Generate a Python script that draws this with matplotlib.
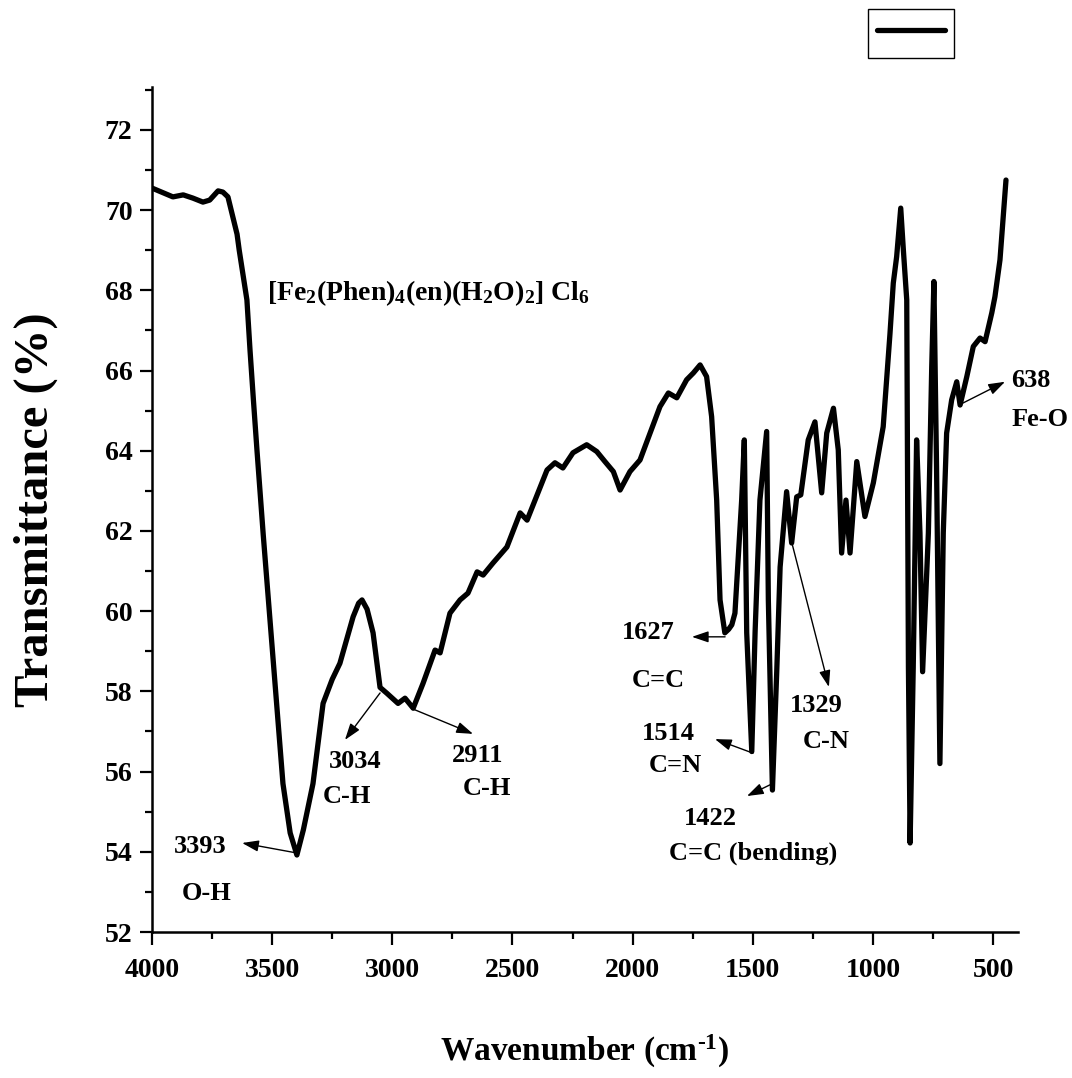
import matplotlib
matplotlib.use("Agg")
import matplotlib.pyplot as plt
from matplotlib.ticker import MultipleLocator

plt.rcParams['font.family'] = 'Liberation Serif'
plt.rcParams['font.weight'] = 'bold'
plt.rcParams['mathtext.fontset'] = 'custom'
plt.rcParams['mathtext.rm'] = 'Liberation Serif:bold'
plt.rcParams['mathtext.bf'] = 'Liberation Serif:bold'
plt.rcParams['mathtext.it'] = 'Liberation Serif:bold'

# FTIR spectrum (wavenumber in cm-1, transmittance in %)
wavenumber = [4000, 3960, 3913, 3870, 3830, 3788, 3760, 3725, 3705, 3684,
              3646, 3637, 3605, 3592, 3578, 3563, 3537, 3455, 3425, 3397,
              3370, 3330, 3288, 3250, 3218, 3163, 3140, 3126, 3105, 3080,
              3051, 3022, 2976, 2947, 2913, 2872, 2822, 2801, 2760, 2718,
              2685, 2647, 2622, 2581, 2523, 2468, 2439, 2356, 2323, 2290,
              2248, 2191, 2149, 2115, 2080, 2052, 2011, 1969, 1927, 1886,
              1851, 1816, 1775, 1747, 1719, 1692, 1671, 1650, 1636, 1616,
              1600, 1587, 1574, 1546, 1535, 1525, 1504, 1490, 1470, 1442,
              1435, 1418, 1400, 1386, 1359, 1338, 1317, 1300, 1269, 1241,
              1213, 1192, 1164, 1144, 1130, 1112, 1095, 1067, 1033, 998,
              957, 929, 915, 901, 884, 873, 859, 852, 845, 832,
              818, 804, 793, 769, 755, 746, 735, 721, 707, 693,
              672, 651, 637, 609, 582, 554, 533, 505, 492, 471, 446]
transmittance = [70.55, 70.45, 70.33, 70.38, 70.30, 70.20, 70.25, 70.48, 70.45, 70.33,
                 69.40, 69.00, 67.76, 66.50, 65.27, 64.00, 61.90, 55.70, 54.47, 53.92,
                 54.55, 55.70, 57.70, 58.30, 58.70, 59.86, 60.20, 60.28, 60.05, 59.46,
                 58.10, 57.95, 57.70, 57.83, 57.58, 58.20, 59.03, 58.96, 59.95, 60.28,
                 60.45, 60.98, 60.90, 61.20, 61.60, 62.45, 62.27, 63.52, 63.70, 63.57,
                 63.95, 64.15, 63.98, 63.73, 63.48, 63.02, 63.48, 63.77, 64.44, 65.10,
                 65.44, 65.32, 65.77, 65.94, 66.14, 65.85, 64.85, 62.77, 60.28, 59.46,
                 59.55, 59.66, 59.95, 62.77, 64.27, 59.46, 56.50, 59.50, 62.77, 64.48,
                 60.28, 55.54, 58.50, 61.10, 62.98, 61.70, 62.85, 62.90, 64.27, 64.72,
                 62.95, 64.44, 65.06, 64.02, 61.45, 62.77, 61.45, 63.73, 62.36, 63.20,
                 64.60, 66.90, 68.18, 68.84, 70.05, 69.00, 67.76, 58.60, 54.22, 58.60,
                 64.27, 61.95, 58.49, 61.95, 66.10, 68.22, 63.60, 56.20, 61.95, 64.44,
                 65.27, 65.72, 65.14, 65.85, 66.60, 66.81, 66.72, 67.44, 67.84, 68.76, 70.75]

# peak labels: text, text positions, arrow tail on the curve, arrow head
peak_labels = ['3393', '3034', '2911', '1627', '1514', '1422', '1329', '638']
group_labels = ['O-H', 'C-H', 'C-H', 'C=C', 'C=N', 'C=C (bending)', 'C-N', 'Fe-O']
peak_text_pos = [(3800, 54.14), (3155, 56.24), (2643, 56.41), (1936, 59.46),
                 (1853, 56.94), (1678, 54.82), (1237, 57.64), (342, 65.74)]
group_text_pos = [(3771, 52.97), (3188, 55.37), (2606, 55.59), (1894, 58.26),
                  (1823, 56.14), (1499, 53.97), (1192, 56.74), (304, 64.77)]
arrow_tail = [(3397, 53.97), (3051, 57.96), (2914, 57.56), (1615, 59.36),
              (1499, 56.46), (1428, 55.67), (1337, 61.70), (625, 65.19)]
arrow_head = [(3625, 54.22), (3197, 56.79), (2664, 56.94), (1753, 59.36),
              (1657, 56.81), (1524, 55.39), (1183, 58.11), (450, 65.72)]

W, H = 1072, 1078
fig = plt.figure(figsize=(W / 100, H / 100), dpi=100)
ax = fig.add_axes([152 / W, (H - 932) / H, (1018 - 152) / W, (932 - 87) / H])

line, = ax.plot(wavenumber, transmittance, color='black', lw=3.8,
                solid_joinstyle='round', solid_capstyle='round')

ax.set_xlim(4000, 396)
ax.set_ylim(52, 73.07)
ax.xaxis.set_major_locator(MultipleLocator(500))
ax.xaxis.set_minor_locator(MultipleLocator(250))
ax.yaxis.set_major_locator(MultipleLocator(2))
ax.yaxis.set_minor_locator(MultipleLocator(1))
ax.tick_params(which='major', direction='out', length=9, width=1.6, labelsize=20, pad=5)
ax.tick_params(axis='x', which='major', pad=10)
ax.tick_params(which='minor', direction='out', length=5, width=1.6)
for s in ['top', 'right']:
    ax.spines[s].set_visible(False)
for s in ['left', 'bottom']:
    ax.spines[s].set_linewidth(1.8)
for lab in ax.get_xticklabels() + ax.get_yticklabels():
    lab.set_fontweight('bold')

ax.set_xlabel(r'Wavenumber (cm$^{\text{-1}}$)', fontsize=24, fontweight='bold', labelpad=36)
ax.set_ylabel('Transmittance (%)', fontsize=35, fontweight='bold', labelpad=34)

ax.text(3521, 67.76, r'[Fe$_2$(Phen)$_4$(en)(H$_2$O)$_2$] Cl$_6$',
        fontsize=20, fontweight='bold', ha='left', va='baseline')

for i in range(len(peak_labels)):
    ax.annotate('', xy=arrow_head[i], xytext=arrow_tail[i],
                arrowprops=dict(arrowstyle='-|>,head_length=0.5,head_width=0.17',
                                color='black', lw=1.0, shrinkA=0, shrinkB=0,
                                mutation_scale=20),
                annotation_clip=False)
    ax.text(peak_text_pos[i][0], peak_text_pos[i][1], peak_labels[i],
            fontsize=19, fontweight='bold', ha='center', va='center')
    ax.text(group_text_pos[i][0], group_text_pos[i][1], group_labels[i],
            fontsize=19, fontweight='bold', ha='center', va='center')

# legend box with no label, outside the axes at the top right
fig.legend([line], [''], loc='center', bbox_to_anchor=(911 / W, 1 - 33 / H),
           frameon=True, fancybox=False, edgecolor='black', framealpha=1,
           handlelength=2.05, handletextpad=0, borderpad=0.27, fontsize=24)

fig.savefig('out.png', dpi=100)
